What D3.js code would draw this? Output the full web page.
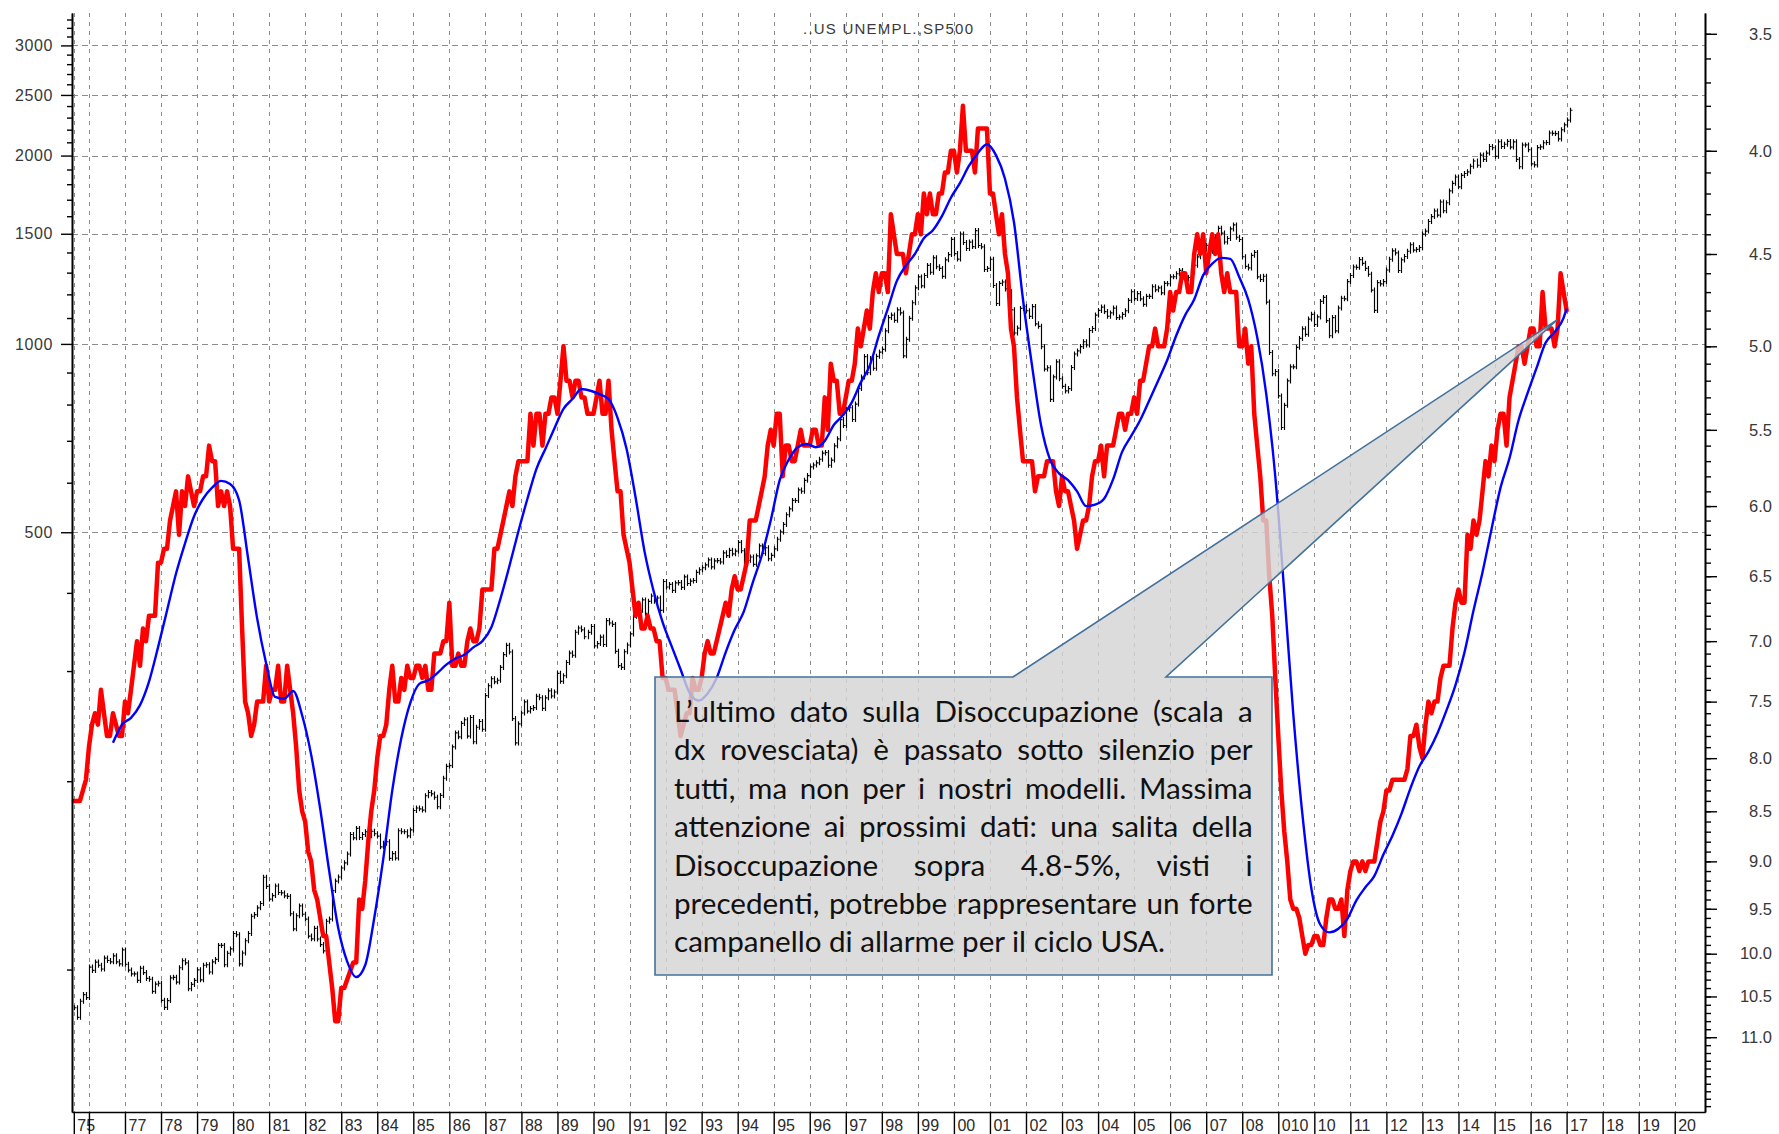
<!DOCTYPE html>
<html><head><meta charset="utf-8">
<script src="https://cdn.jsdelivr.net/npm/d3@7"></script>
<style>body{margin:0;background:#fff}svg{display:block}</style>
</head><body>
<svg id="c" width="1779" height="1134"></svg>
<script>
// ---------------- DATA ----------------
const titleText = "..US UNEMPL.,SP500";
const unempStart = [1975, 8];   // monthly US unemployment rate (%), right axis (inverted)
const unemployment = [
8.4,8.4,8.4,8.3,8.2,
7.9,7.7,7.6,7.7,7.4,7.6,7.8,7.8,7.6,7.7,7.8,7.8,
7.5,7.6,7.4,7.2,7.0,7.2,6.9,7.0,6.8,6.8,6.8,6.4,
6.4,6.3,6.3,6.1,6.0,5.9,6.2,5.9,6.0,5.8,5.9,6.0,
5.9,5.9,5.8,5.8,5.6,5.7,5.7,6.0,5.9,6.0,5.9,6.0,
6.3,6.3,6.3,6.9,7.5,7.6,7.8,7.7,7.5,7.5,7.5,7.2,
7.5,7.4,7.4,7.2,7.5,7.5,7.2,7.4,7.6,7.9,8.3,8.5,
8.6,8.9,9.0,9.3,9.4,9.6,9.8,9.8,10.1,10.4,10.8,10.8,
10.4,10.4,10.3,10.2,10.1,10.1,9.4,9.5,9.2,8.8,8.5,8.3,
8.0,7.8,7.8,7.7,7.4,7.2,7.5,7.5,7.3,7.4,7.2,7.3,
7.3,7.2,7.2,7.3,7.2,7.4,7.4,7.1,7.1,7.1,7.0,7.0,
6.7,7.2,7.2,7.1,7.2,7.2,7.0,6.9,7.0,7.0,6.9,6.6,
6.6,6.6,6.6,6.3,6.3,6.2,6.1,6.0,5.9,6.0,5.8,5.7,
5.7,5.7,5.7,5.4,5.6,5.4,5.4,5.6,5.4,5.4,5.3,5.3,
5.4,5.2,5.0,5.2,5.2,5.3,5.2,5.2,5.3,5.3,5.4,5.4,
5.4,5.3,5.2,5.4,5.4,5.2,5.5,5.7,5.9,5.9,6.2,6.3,
6.4,6.6,6.8,6.7,6.9,6.9,6.8,6.9,6.9,7.0,7.0,7.3,
7.3,7.4,7.4,7.4,7.6,7.8,7.7,7.6,7.6,7.3,7.4,7.4,
7.3,7.1,7.0,7.1,7.1,7.0,6.9,6.8,6.7,6.8,6.6,6.5,
6.6,6.6,6.5,6.4,6.1,6.1,6.1,6.0,5.9,5.8,5.6,5.5,
5.6,5.4,5.4,5.8,5.6,5.6,5.7,5.7,5.6,5.5,5.6,5.6,
5.6,5.5,5.5,5.6,5.6,5.3,5.5,5.1,5.2,5.2,5.4,5.4,
5.3,5.2,5.2,5.1,4.9,5.0,4.9,4.8,4.9,4.7,4.6,4.7,
4.6,4.6,4.7,4.3,4.4,4.5,4.5,4.5,4.6,4.5,4.4,4.4,
4.3,4.4,4.2,4.3,4.2,4.3,4.3,4.2,4.2,4.1,4.1,4.0,
4.0,4.1,4.0,3.8,4.0,4.0,4.0,4.1,3.9,3.9,3.9,3.9,
4.2,4.2,4.3,4.4,4.3,4.5,4.6,4.9,5.0,5.3,5.5,5.7,
5.7,5.7,5.7,5.9,5.8,5.8,5.8,5.7,5.7,5.7,5.9,6.0,
5.8,5.9,5.9,6.0,6.1,6.3,6.2,6.1,6.1,6.0,5.8,5.7,
5.7,5.6,5.8,5.6,5.6,5.6,5.5,5.4,5.4,5.5,5.4,5.4,
5.3,5.4,5.2,5.2,5.1,5.0,5.0,4.9,5.0,5.0,5.0,4.9,
4.7,4.8,4.7,4.7,4.6,4.6,4.7,4.7,4.5,4.4,4.5,4.4,
4.6,4.5,4.4,4.5,4.4,4.6,4.7,4.6,4.7,4.7,4.7,5.0,
5.0,4.9,5.1,5.0,5.4,5.6,5.8,6.1,6.1,6.5,6.8,7.3,
7.8,8.3,8.7,9.0,9.4,9.5,9.5,9.6,9.8,10.0,9.9,9.9,
9.8,9.8,9.9,9.9,9.6,9.4,9.4,9.5,9.5,9.4,9.8,9.3,
9.1,9.0,9.0,9.1,9.0,9.1,9.0,9.0,9.0,8.8,8.6,8.5,
8.3,8.3,8.2,8.2,8.2,8.2,8.2,8.1,7.8,7.8,7.7,7.9,
8.0,7.7,7.5,7.6,7.5,7.5,7.3,7.2,7.2,7.2,6.9,6.7,
6.6,6.7,6.7,6.2,6.3,6.1,6.2,6.1,5.9,5.7,5.8,5.6,
5.7,5.5,5.4,5.4,5.6,5.3,5.2,5.1,5.0,5.0,5.1,5.0,
4.9,4.9,5.0,5.0,4.7,4.9,4.9,4.9,5.0,4.9,4.6,4.7,
4.8
];

// smoothed unemployment (blue), read at quarter ends
const blueSeries = [
["1976-09",7.86],["1976-12",7.70],
["1977-03",7.64],["1977-06",7.53],["1977-09",7.33],["1977-12",7.05],
["1978-03",6.76],["1978-06",6.48],["1978-09",6.26],["1978-12",6.07],
["1979-03",5.95],["1979-06",5.875],["1979-09",5.83],["1979-12",5.85],
["1980-03",5.96],["1980-06",6.37],["1980-09",6.82],["1980-12",7.18],
["1981-03",7.46],["1981-06",7.475],["1981-09",7.41],["1981-12",7.62],
["1982-03",7.97],["1982-06",8.475],["1982-09",9.10],["1982-12",9.71],
["1983-03",10.09],["1983-06",10.27],["1983-09",10.13],["1983-12",9.60],
["1984-03",8.975],["1984-06",8.30],["1984-09",7.82],["1984-12",7.51],
["1985-03",7.35],["1985-06",7.32],["1985-09",7.26],["1985-12",7.19],
["1986-03",7.14],["1986-06",7.11],["1986-09",7.05],["1986-12",7.00],
["1987-03",6.89],["1987-06",6.67],["1987-09",6.425],["1987-12",6.175],
["1988-03",5.95],["1988-06",5.75],["1988-09",5.62],["1988-12",5.49],
["1989-03",5.37],["1989-06",5.31],["1989-09",5.25],["1989-12",5.26],
["1990-03",5.28],["1990-06",5.31],["1990-09",5.425],["1990-12",5.62],
["1991-03",5.94],["1991-06",6.32],["1991-09",6.61],["1991-12",6.85],
["1992-03",7.04],["1992-06",7.23],["1992-09",7.425],["1992-12",7.49],
["1993-03",7.43],["1993-06",7.30],["1993-09",7.09],["1993-12",6.91],
["1994-03",6.77],["1994-06",6.55],["1994-09",6.35],["1994-12",6.10],
["1995-03",5.825],["1995-06",5.69],["1995-09",5.61],["1995-12",5.59],
["1996-03",5.61],["1996-06",5.57],["1996-09",5.47],["1996-12",5.41],
["1997-03",5.33],["1997-06",5.21],["1997-09",5.11],["1997-12",4.94],
["1998-03",4.79],["1998-06",4.64],["1998-09",4.56],["1998-12",4.50],
["1999-03",4.42],["1999-06",4.38],["1999-09",4.31],["1999-12",4.22],
["2000-03",4.15],["2000-06",4.07],["2000-09",4.01],["2000-12",3.97],
["2001-03",4.02],["2001-06",4.13],["2001-09",4.34],["2001-12",4.74],
["2002-03",5.11],["2002-06",5.47],["2002-09",5.69],["2002-12",5.78],
["2003-03",5.825],["2003-06",5.90],["2003-09",6.00],["2003-12",5.99],
["2004-03",5.95],["2004-06",5.82],["2004-09",5.64],["2004-12",5.54],
["2005-03",5.44],["2005-06",5.32],["2005-09",5.20],["2005-12",5.08],
["2006-03",4.94],["2006-06",4.825],["2006-09",4.74],["2006-12",4.61],
["2007-03",4.55],["2007-06",4.52],["2007-09",4.525],["2007-12",4.62],
["2008-03",4.74],["2008-06",4.95],["2008-09",5.28],["2008-12",5.80],
["2009-03",6.62],["2009-06",7.61],["2009-09",8.52],["2009-12",9.28],
["2010-03",9.675],["2010-06",9.76],["2010-09",9.72],["2010-12",9.61],
["2011-03",9.41],["2011-06",9.27],["2011-09",9.15],["2011-12",8.93],
["2012-03",8.74],["2012-06",8.525],["2012-09",8.28],["2012-12",8.075],
["2013-03",7.94],["2013-06",7.775],["2013-09",7.575],["2013-12",7.36],
["2014-03",7.09],["2014-06",6.76],["2014-09",6.47],["2014-12",6.16],
["2015-03",5.875],["2015-06",5.68],["2015-09",5.44],["2015-12",5.275],
["2016-03",5.125],["2016-06",4.98],["2016-09",4.92],["2016-12",4.84],
["2017-01",4.79]
];

const spStart = [1975, 8];   // S&P 500 monthly closes, left log axis
const spClose = [
86.9,83.9,89.0,91.2,90.2,
100.9,99.7,102.8,101.6,100.2,104.3,103.4,102.9,105.2,102.9,102.1,107.5,
102.0,99.8,98.4,98.4,96.1,100.5,98.9,96.8,96.5,92.3,94.8,95.1,
89.3,87.0,89.2,97.0,97.2,95.5,100.7,103.3,102.5,93.2,94.7,96.1,
99.9,96.3,101.6,101.8,99.1,102.9,103.8,109.3,109.3,101.8,106.2,107.9,
114.2,113.7,102.1,106.3,111.2,114.2,121.7,122.4,125.5,127.5,140.5,135.8,
129.6,131.3,136.0,132.8,132.6,131.2,130.9,122.8,116.2,121.9,126.4,122.6,
120.4,113.1,112.0,116.4,111.9,109.6,107.1,119.5,120.4,133.7,138.5,140.6,
145.3,148.1,153.0,164.4,162.4,168.1,162.6,164.4,166.1,163.6,166.4,164.9,
163.4,157.1,159.2,160.1,150.6,153.2,150.7,166.7,166.1,166.1,163.6,167.2,
179.6,181.2,180.7,179.8,189.6,191.9,190.9,188.6,182.1,189.8,202.2,211.3,
211.8,226.9,238.9,235.5,247.4,250.8,236.1,252.9,231.3,244.0,249.2,242.2,
274.1,284.2,291.7,288.4,290.1,304.0,318.7,329.8,321.8,251.8,230.3,247.1,
257.1,267.8,258.9,261.3,262.2,273.5,272.0,261.5,271.9,279.0,273.7,277.7,
297.5,288.9,294.9,309.6,320.5,318.0,346.1,351.5,349.2,340.4,346.0,353.4,
329.1,331.9,339.9,330.8,361.2,358.0,356.2,322.6,306.1,304.0,322.2,330.2,
343.9,367.1,375.2,375.3,389.8,371.2,387.8,395.4,387.9,392.5,375.2,417.1,
408.8,412.7,403.7,415.0,415.4,408.1,424.2,414.0,417.8,418.7,431.4,435.7,
438.8,443.4,451.7,440.2,450.2,450.5,448.1,463.6,458.9,467.8,461.8,466.5,
481.6,467.1,445.8,450.9,456.5,444.3,458.3,475.5,462.7,472.4,453.7,459.3,
470.4,487.4,500.7,514.7,533.4,544.8,562.1,561.9,584.4,581.5,605.4,615.9,
636.0,640.4,645.5,654.2,669.1,670.6,640.0,652.0,687.3,705.3,757.0,740.7,
786.2,790.8,757.1,801.3,848.3,885.1,954.3,899.5,947.3,914.6,955.4,970.4,
980.3,1049.3,1101.8,1111.8,1090.8,1133.8,1120.7,957.3,1017.0,1098.7,1163.6,1229.2,
1279.6,1238.3,1286.4,1335.2,1301.8,1372.7,1328.7,1320.4,1282.7,1362.9,1389.0,1469.3,
1394.5,1366.4,1498.6,1452.4,1420.6,1454.6,1430.8,1517.7,1436.5,1429.4,1315.2,1320.3,
1366.0,1239.9,1160.3,1249.5,1255.8,1224.4,1211.2,1133.6,1040.9,1059.8,1139.5,1148.1,
1130.2,1106.7,1147.4,1076.9,1067.1,989.8,911.6,916.1,815.3,885.8,936.3,879.8,
855.7,841.2,848.2,916.9,963.6,974.5,990.3,1008.0,996.0,1050.7,1058.2,1111.9,
1131.1,1144.9,1126.2,1107.3,1120.7,1140.8,1101.7,1104.2,1114.6,1130.2,1173.8,1211.9,
1181.3,1203.6,1180.6,1156.9,1191.5,1191.3,1234.2,1220.3,1228.8,1207.0,1249.5,1248.3,
1280.1,1280.7,1294.9,1310.6,1270.1,1270.2,1276.7,1303.8,1335.9,1377.9,1400.6,1418.3,
1438.2,1406.8,1420.9,1482.4,1530.6,1503.4,1455.3,1474.0,1526.8,1549.4,1481.1,1468.4,
1378.6,1330.6,1322.7,1385.6,1400.4,1280.0,1267.4,1282.8,1166.4,968.8,896.2,903.3,
825.9,735.1,797.9,872.8,919.1,919.3,987.5,1020.6,1057.1,1036.2,1095.6,1115.1,
1073.9,1104.5,1169.4,1186.7,1089.4,1030.7,1101.6,1049.3,1141.2,1183.3,1180.6,1257.6,
1286.1,1327.2,1325.8,1363.6,1345.2,1320.6,1292.3,1219.0,1131.4,1253.3,1247.0,1257.6,
1312.4,1365.7,1408.5,1397.9,1310.3,1362.2,1379.3,1406.6,1440.7,1412.2,1416.2,1426.2,
1498.1,1514.7,1569.2,1597.6,1630.7,1606.3,1685.7,1633.0,1681.6,1756.5,1805.8,1848.4,
1782.6,1859.5,1872.3,1884.0,1923.6,1960.2,1930.7,2003.4,1972.3,2018.1,2067.6,2058.9,
1995.0,2104.5,2067.9,2085.5,2107.4,2063.1,2103.8,1972.2,1920.0,2079.4,2080.4,2043.9,
1940.2,1932.2,2059.7,2065.3,2097.0,2098.9,2173.6,2171.0,2168.3,2126.2,2199.0,2238.8,
2278.9,2363.6
];

const leftMajorTicks = [500,1000,1500,2000,2500,3000];
const leftMinorTicks = [100,200,300,400,600,700,800,900,1100,1200,1300,1400,1600,1700,1800,1900,2100,2200,2300,2400,2600,2700,2800,2900,3100,3200,3300];
const rightMajorTicks = [3.5,4.0,4.5,5.0,5.5,6.0,6.5,7.0,7.5,8.0,8.5,9.0,9.5,10.0,10.5,11.0];
const rightMinorTicks = d3.range(35,120).map(d => d/10);
const yearTicks = [1975.58].concat(d3.range(1976, 2021));
const yearLabels = ["75","","77","78","79","80","81","82","83","84","85","86","87","88","89","90","91","92","93","94","95","96","97","98","99","00","01","02","03","04","05","06","07","08","010","10","11","12","13","14","15","16","17","18","19","20"];

const noteLines = [
"L’ultimo dato sulla Disoccupazione (scala a",
"dx rovesciata) è passato sotto silenzio per",
"tutti, ma non per i nostri modelli. Massima",
"attenzione ai prossimi dati: una salita della",
"Disoccupazione sopra 4.8-5%, visti i",
"precedenti, potrebbe rappresentare un forte",
"campanello di allarme per il ciclo USA."
];

// ---------------- LAYOUT ----------------
const L = 72, R = 1705, T = 13, B = 1112;
const svg = d3.select("#c");
const x = d3.scaleLinear().domain([1975.53, 2020.84]).range([L, R]);
const yL = d3.scaleLog().domain([59.2, 3380]).range([B, T]);
const yR = d3.scaleLog().domain([3.418, 11.98]).range([T, B]);
const monthPos = (start, i) => start[0] + (start[1] - 1 + i) / 12;
const ymPos = s => { const [yy, mm] = s.split("-").map(Number); return yy + (mm - 1) / 12; };

const AX_FONT = "'Liberation Sans', Arial, sans-serif";

// gridlines
const grid = svg.append("g").attr("stroke", "#8c8c8c").attr("stroke-width", 1);
grid.selectAll("line.h").data(leftMajorTicks).join("line")
  .attr("x1", L).attr("x2", R)
  .attr("y1", d => Math.round(yL(d)) + 0.5).attr("y2", d => Math.round(yL(d)) + 0.5)
  .attr("stroke-dasharray", "6,4");
grid.selectAll("line.v").data(yearTicks).join("line")
  .attr("y1", T).attr("y2", B)
  .attr("x1", d => Math.round(x(d)) + 0.5).attr("x2", d => Math.round(x(d)) + 0.5)
  .attr("stroke-dasharray", "4,5");

// S&P 500 monthly bars
let spPath = "";
spClose.forEach((v, i) => {
  const xi = Math.round(x(monthPos(spStart, i))) + 0.5;
  const prev = i > 0 ? spClose[i - 1] : v;
  const a = yL(prev), b = yL(v);
  const lo = Math.min(a, b) - 2.5, hi = Math.max(a, b) + 2.5;
  spPath += `M${xi},${lo.toFixed(1)}V${hi.toFixed(1)}M${xi},${b.toFixed(1)}h2`;
});
svg.append("path").attr("d", spPath).attr("stroke", "#000").attr("stroke-width", 1.15).attr("fill", "none");

// red: unemployment
const redLine = d3.line().x((d, i) => x(monthPos(unempStart, i))).y(d => yR(d));
svg.append("path").datum(unemployment).attr("d", redLine)
  .attr("fill", "none").attr("stroke", "#ff0000").attr("stroke-width", 4.5)
  .attr("stroke-linejoin", "round").attr("stroke-linecap", "round");

// blue: smoothed unemployment
const blueLine = d3.line().x(d => x(ymPos(d[0]))).y(d => yR(d[1])).curve(d3.curveMonotoneX);
svg.append("path").datum(blueSeries).attr("d", blueLine)
  .attr("fill", "none").attr("stroke", "#0000ff").attr("stroke-width", 2.4)
  .attr("stroke-linejoin", "round");

// callout
const bx0 = 655, by0 = 677, bx1 = 1272, by1 = 975;
const tip = [1557, 320];
const calloutPath = `M${bx0},${by0}L1013,${by0}L${tip[0]},${tip[1]}L1166,${by0}L${bx1},${by0}L${bx1},${by1}L${bx0},${by1}Z`;
svg.append("path").attr("d", calloutPath)
  .attr("fill", "#d4d4d4").attr("fill-opacity", 0.82)
  .attr("stroke", "#41719c").attr("stroke-width", 1.6).attr("stroke-linejoin", "miter");

// note text (justified)
const noteG = svg.append("g").attr("font-family", "Lato, 'Open Sans', sans-serif").attr("fill", "#111");
const measure = noteG.append("text").attr("font-size", 100).attr("visibility", "hidden");
measure.text(noteLines[6]);
const fs = 100 * 491 / measure.node().getComputedTextLength();
measure.remove();
noteG.attr("font-size", fs);
const tx0 = 674, tx1 = 1252.6, lineH = 38.4, base0 = 722;
noteLines.forEach((line, li) => {
  const words = line.split(" ");
  const yy = base0 + li * lineH;
  if (li === noteLines.length - 1) {
    noteG.append("text").attr("x", tx0).attr("y", yy).text(line);
    return;
  }
  const nodes = words.map(w => noteG.append("text").attr("y", yy).text(w));
  const widths = nodes.map(n => n.node().getComputedTextLength());
  const gap = (tx1 - tx0 - d3.sum(widths)) / (words.length - 1);
  let cx = tx0;
  nodes.forEach((n, k) => { n.attr("x", cx); cx += widths[k] + gap; });
});

// axes
function styleAxis(g) {
  g.selectAll("path.domain").attr("stroke", "#000").attr("stroke-width", 1.6);
  g.selectAll(".tick line").attr("stroke", "#000").attr("stroke-width", 1.4);
  g.selectAll("text").attr("fill", "#383838").attr("font-family", AX_FONT);
}
// left
const gLmin = svg.append("g").attr("transform", `translate(${L},0)`)
  .call(d3.axisLeft(yL).tickValues(leftMinorTicks).tickSize(5).tickSizeOuter(0).tickFormat(""));
styleAxis(gLmin);
const gL = svg.append("g").attr("transform", `translate(${L},0)`)
  .call(d3.axisLeft(yL).tickValues(leftMajorTicks).tickSize(11).tickSizeOuter(0).tickPadding(8).tickFormat(d3.format("d")));
gL.attr("font-size", 16);
styleAxis(gL);
gL.selectAll("text").attr("letter-spacing", 0.6);
// right
const gRmin = svg.append("g").attr("transform", `translate(${R},0)`)
  .call(d3.axisRight(yR).tickValues(rightMinorTicks).tickSize(6).tickSizeOuter(0).tickFormat(""));
styleAxis(gRmin);
const gR = svg.append("g").attr("transform", `translate(${R},0)`)
  .call(d3.axisRight(yR).tickValues(rightMajorTicks).tickSize(12).tickSizeOuter(0).tickFormat(d3.format(".1f")));
gR.attr("font-size", 16.5);
styleAxis(gR);
gR.selectAll("text").attr("x", 67).attr("text-anchor", "end");
// bottom
const gB = svg.append("g").attr("transform", `translate(0,${B})`)
  .call(d3.axisBottom(x).tickValues(yearTicks).tickSize(24).tickSizeOuter(0).tickFormat((d, i) => yearLabels[i]));
gB.attr("font-size", 16);
styleAxis(gB);
gB.selectAll("text").attr("text-anchor", "start").attr("x", 3).attr("y", 8).attr("dy", "0.71em").attr("fill", "#2a2a2a");

// title
svg.append("text").attr("x", 888).attr("y", 34).attr("text-anchor", "middle")
  .attr("font-family", AX_FONT).attr("font-size", 15).attr("fill", "#3a3a3a")
  .attr("textLength", 170).attr("lengthAdjust", "spacing").text(titleText);
</script>
</body></html>
